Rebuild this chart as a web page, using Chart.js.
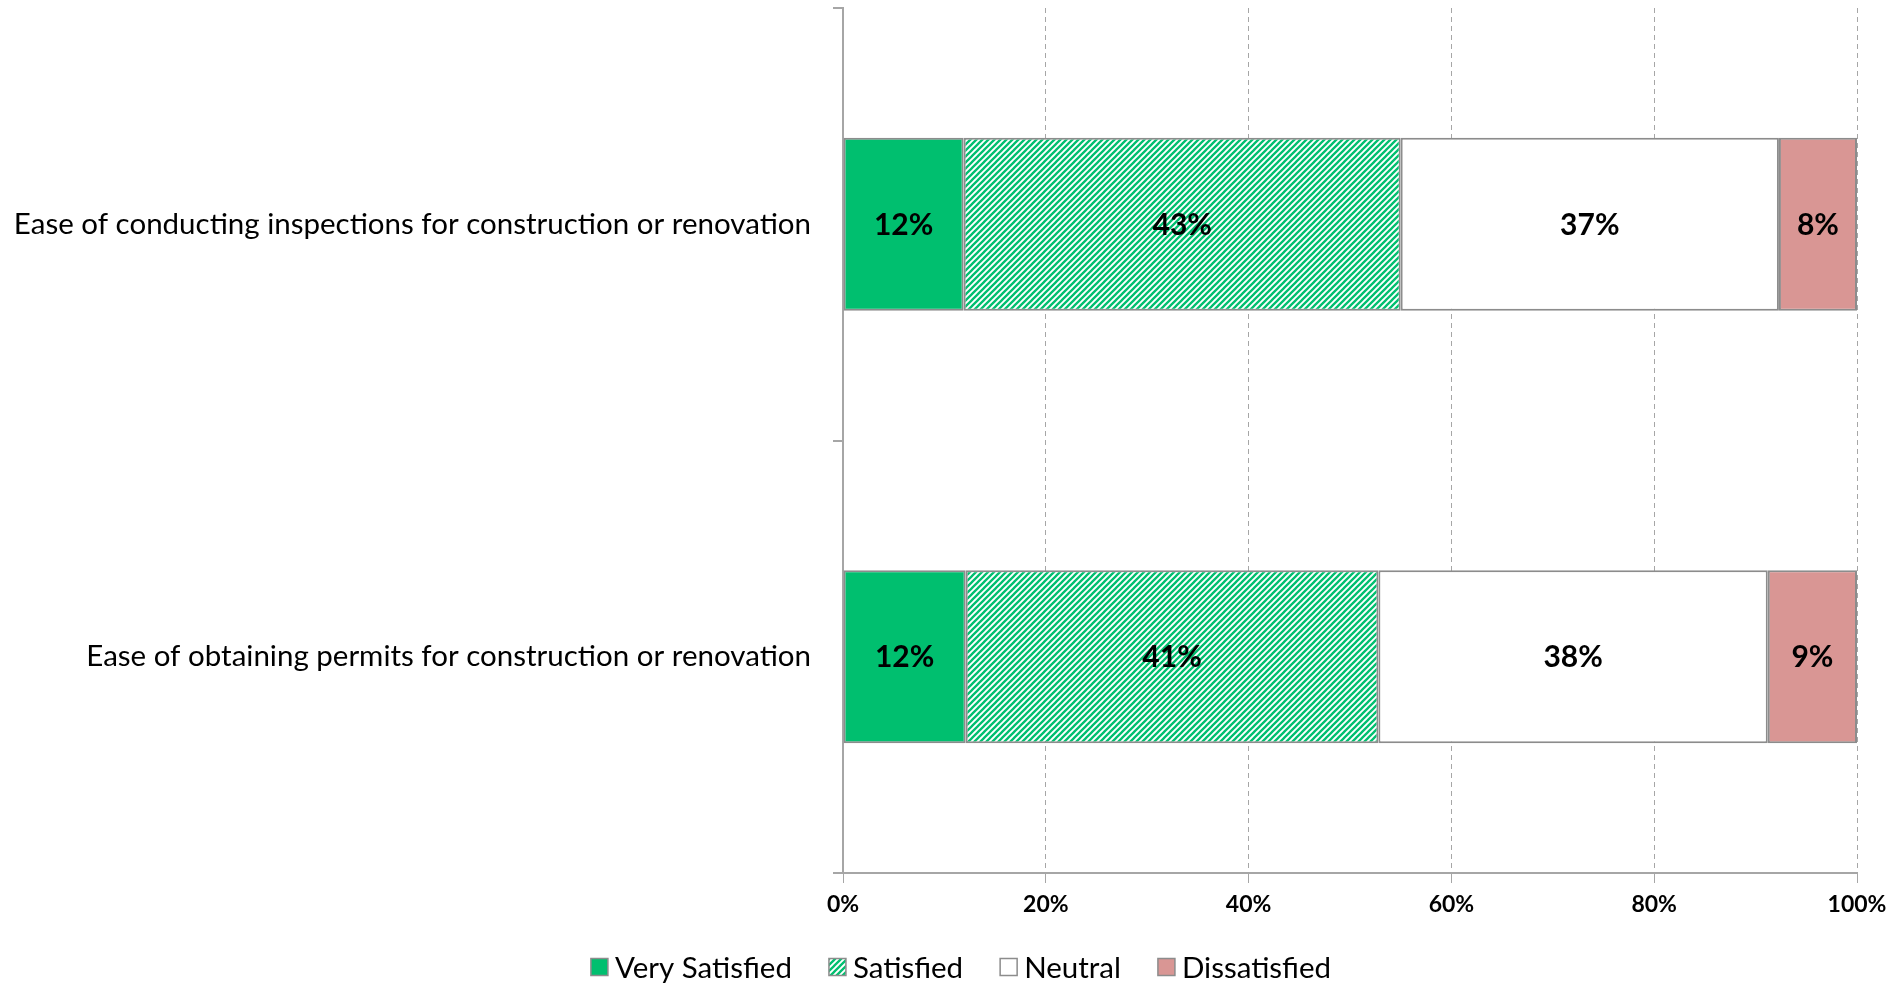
<!DOCTYPE html>
<html>
<head>
<meta charset="utf-8">
<script src="https://cdn.jsdelivr.net/npm/chart.js@4.4.1/dist/chart.umd.min.js"></script>
<style>
  html, body { margin: 0; padding: 0; background: #fff; }
  canvas { display: block; }
</style>
</head>
<body>
<canvas id="chart" width="1893" height="983"></canvas>
<script>
// values (percent of respondents)
const categories = [
    'Ease of conducting inspections for construction or renovation',
    'Ease of obtaining permits for construction or renovation'
];
const seriesNames = ['Very Satisfied', 'Satisfied', 'Neutral', 'Dissatisfied'];
const verySatisfied = [11.9, 12.1];
const satisfied = [43.1, 40.7];
const neutral = [37.3, 38.4];
const dissatisfied = [7.7, 8.8];
const xTicks = [0, 20, 40, 60, 80, 100];

const FONT = 'Lato, "Open Sans", sans-serif';
const GREEN = '#00bf6f';
const PINK = '#d99694';
const EDGE = '#8c8c8c';
const AXIS = '#a6a6a6';

// green/white diagonal hatch for "Satisfied"
const makeHatch = () => {
    const c = document.createElement('canvas');
    c.width = 6;
    c.height = 6;
    const g = c.getContext('2d');
    g.fillStyle = '#fff';
    g.fillRect(0, 0, 6, 6);
    g.strokeStyle = GREEN;
    g.lineWidth = 2.3;
    g.beginPath();
    g.moveTo(-1, 7); g.lineTo(7, -1);
    g.moveTo(-1, 1); g.lineTo(1, -1);
    g.moveTo(5, 7); g.lineTo(7, 5);
    g.stroke();
    return g.createPattern(c, 'repeat');
};

const ctx = document.getElementById('chart').getContext('2d');
const hatch = makeHatch();

const fills = [GREEN, hatch, '#ffffff', PINK];
const seriesData = [verySatisfied, satisfied, neutral, dissatisfied];

const data = {
    labels: categories,
    datasets: seriesNames.map((name, i) => ({
        label: name,
        data: seriesData[i],
        backgroundColor: fills[i],
        borderColor: EDGE,
        borderWidth: 2,
        borderSkipped: false,
        categoryPercentage: 1,
        barPercentage: 0.4
    }))
};

// percentage labels in the middle of each segment
const valueLabels = {
    id: 'valueLabels',
    afterDatasetsDraw(chart) {
        const c = chart.ctx;
        c.save();
        c.font = `bold 30px ${FONT}`;
        c.fillStyle = '#000';
        c.textAlign = 'center';
        c.textBaseline = 'middle';
        chart.data.datasets.forEach((ds, i) => {
            chart.getDatasetMeta(i).data.forEach((bar, j) => {
                const p = bar.getCenterPoint();
                c.fillText(Math.round(ds.data[j]) + '%', p.x, p.y + 1);
            });
        });
        c.restore();
    }
};

// legend row under the axis
const bottomLegend = {
    id: 'bottomLegend',
    afterDraw(chart) {
        const c = chart.ctx;
        const box = 17, gapText = 7, gapItem = 37;
        c.save();
        c.font = `29.5px ${FONT}`;
        const items = chart.data.datasets.map(ds => ({
            ds: ds,
            w: box + gapText + c.measureText(ds.label).width
        }));
        const total = items.reduce((s, it) => s + it.w, 0) + gapItem * (items.length - 1);
        let x = 961 - total / 2;
        const y = 967;
        items.forEach(it => {
            c.fillStyle = it.ds.backgroundColor;
            c.fillRect(x, y - box / 2, box, box);
            c.strokeStyle = EDGE;
            c.lineWidth = 1.5;
            c.strokeRect(x, y - box / 2, box, box);
            c.fillStyle = '#000';
            c.textAlign = 'left';
            c.textBaseline = 'middle';
            c.fillText(it.ds.label, x + box + gapText, y + 1);
            x += it.w + gapItem;
        });
        c.restore();
    }
};

const config = {
    type: 'bar',
    data: data,
    options: {
        indexAxis: 'y',
        responsive: false,
        animation: false,
        devicePixelRatio: 1,
        layout: {
            padding: { left: 0, right: 36, top: 8, bottom: 60 }
        },
        plugins: {
            legend: { display: false },
            tooltip: { enabled: false }
        },
        scales: {
            x: {
                stacked: true,
                min: 0,
                max: 100,
                afterBuildTicks: (scale) => {
                    scale.ticks = xTicks.map(v => ({ value: v }));
                },
                afterFit: (scale) => {
                    scale.height = 50;
                    scale.paddingLeft = 0;
                    scale.paddingRight = 0;
                },
                ticks: {
                    callback: (v) => v + '%',
                    color: '#000',
                    font: { family: FONT, size: 23, weight: 'bold' },
                    padding: 8,
                    maxRotation: 0
                },
                grid: {
                    color: AXIS,
                    lineWidth: 1,
                    tickLength: 10,
                    tickColor: AXIS,
                    tickBorderDash: []
                },
                border: { color: AXIS, width: 2, dash: [5, 4] }
            },
            y: {
                stacked: true,
                afterFit: (scale) => {
                    scale.width = 843;
                    scale.paddingTop = 0;
                    scale.paddingBottom = 0;
                },
                ticks: {
                    color: '#000',
                    font: { family: FONT, size: 29.5 },
                    padding: 22
                },
                grid: {
                    drawOnChartArea: false,
                    tickLength: 10,
                    color: AXIS,
                    lineWidth: 2
                },
                border: { color: AXIS, width: 2 }
            }
        }
    },
    plugins: [valueLabels, bottomLegend]
};

const chart = new Chart(ctx, config);
</script>
</body>
</html>
